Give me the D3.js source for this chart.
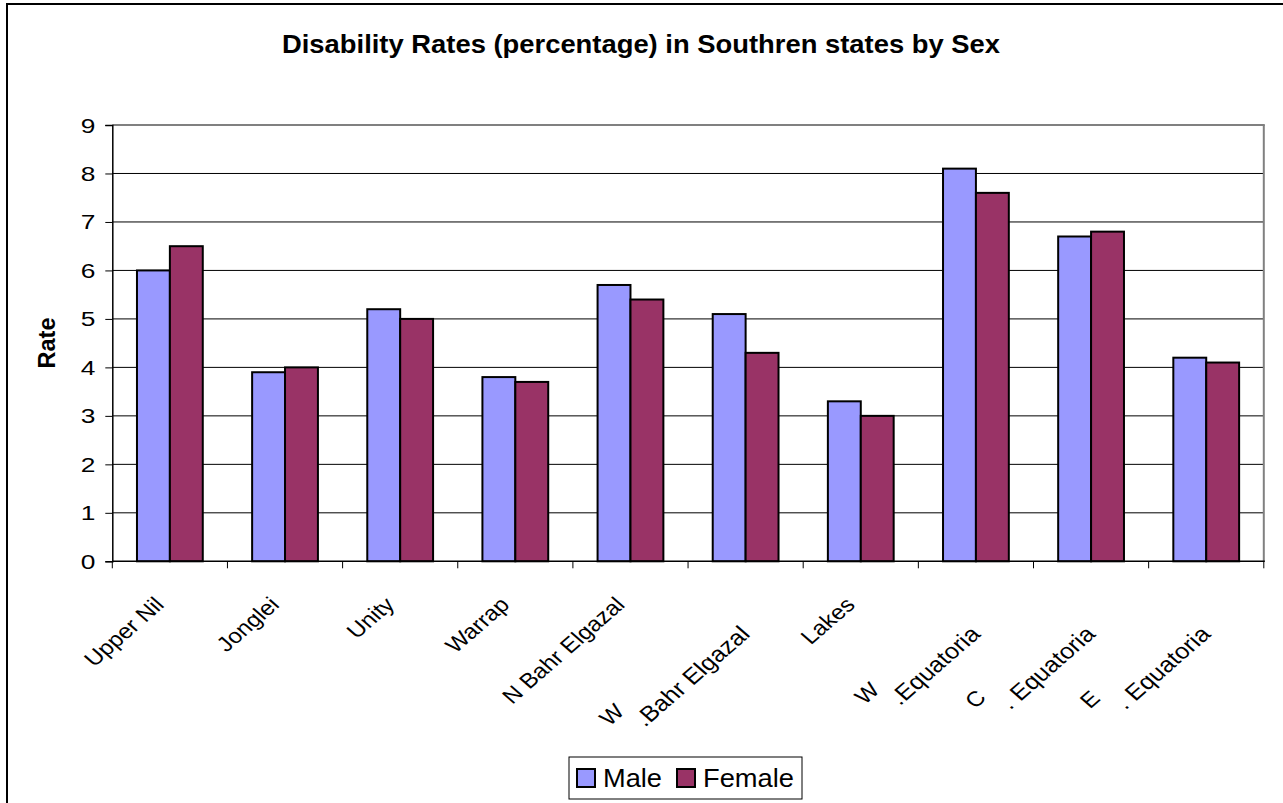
<!DOCTYPE html>
<html>
<head>
<meta charset="utf-8">
<script src="https://cdn.jsdelivr.net/npm/d3@7"></script>
<style>
  html, body { margin: 0; padding: 0; background: #fff; }
  svg { display: block; }
  text { font-family: "Liberation Sans", Arial, sans-serif; fill: #000; }
</style>
</head>
<body>
<svg id="chart" width="1283" height="803"></svg>
<script>
// ---- data ----
const categories = ["Upper Nil", "Jonglei", "Unity", "Warrap", "N Bahr Elgazal",
                    "W|.Bahr Elgazal", "Lakes", "W|.Equatoria", "C|. Equatoria", "E|. Equatoria"];
const seriesNames = ["Male", "Female"];
const maleValues   = [6.0, 3.9, 5.2, 3.8, 5.7, 5.1, 3.3, 8.1, 6.7, 4.2];
const femaleValues = [6.5, 4.0, 5.0, 3.7, 5.4, 4.3, 3.0, 7.6, 6.8, 4.1];
const yTickValues = [0, 1, 2, 3, 4, 5, 6, 7, 8, 9];
const titleText = "Disability Rates (percentage) in Southren states by Sex";
const yAxisTitle = "Rate";
const seriesColors = ["#9999FF", "#993366"];

// ---- layout ----
const svg = d3.select("#chart");
const plot = { left: 112.3, right: 1263.8, top: 125, bottom: 561.3 };

const x = d3.scaleBand().domain(categories).range([plot.left, plot.right]).paddingInner(0).paddingOuter(0);
const xs = d3.scaleBand().domain(seriesNames).range([0, x.bandwidth()]).paddingInner(0).paddingOuter(0.75);
const y = d3.scaleLinear().domain([0, 9]).range([plot.bottom, plot.top]);
const color = d3.scaleOrdinal().domain(seriesNames).range(seriesColors);

// outer chart border
svg.append("rect").attr("x", 7).attr("y", 4).attr("width", 1300).attr("height", 830)
  .attr("fill", "none").attr("stroke", "#000").attr("stroke-width", 2);

// title
svg.append("text").attr("x", 641).attr("y", 53)
  .attr("text-anchor", "middle").attr("font-size", 26).attr("font-weight", "bold")
  .attr("textLength", 718).attr("lengthAdjust", "spacingAndGlyphs")
  .text(titleText);

// gridlines
svg.append("g").selectAll("line").data(yTickValues.filter(v => v > 0 && v < 9)).join("line")
  .attr("x1", plot.left).attr("x2", plot.right)
  .attr("y1", d => y(d)).attr("y2", d => y(d))
  .attr("stroke", "#000").attr("stroke-width", 1);

// plot border top / right (gray)
svg.append("line").attr("x1", plot.left).attr("x2", plot.right + 1).attr("y1", y(9)).attr("y2", y(9))
  .attr("stroke", "#808080").attr("stroke-width", 2);
svg.append("line").attr("x1", plot.right).attr("x2", plot.right).attr("y1", y(9)).attr("y2", plot.bottom)
  .attr("stroke", "#808080").attr("stroke-width", 2);

// bars
const rows = categories.map((c, i) => ({ cat: c, values: [maleValues[i], femaleValues[i]] }));
const groups = svg.append("g").selectAll("g").data(rows).join("g")
  .attr("transform", d => `translate(${x(d.cat)},0)`);
groups.selectAll("rect").data(d => seriesNames.map((s, j) => ({ s, v: d.values[j] }))).join("rect")
  .attr("x", d => xs(d.s)).attr("width", xs.bandwidth())
  .attr("y", d => y(d.v)).attr("height", d => y(0) - y(d.v))
  .attr("fill", d => color(d.s)).attr("stroke", "#000").attr("stroke-width", 2);

// y axis
const yAxis = d3.axisLeft(y).tickValues(yTickValues).tickSize(7).tickPadding(10).tickFormat(d3.format("d"));
const gy = svg.append("g").attr("transform", `translate(${plot.left},0)`).call(yAxis);
gy.select(".domain").attr("stroke", "#000").attr("stroke-width", 1.5);
gy.selectAll(".tick line").attr("stroke", "#000");
gy.selectAll(".tick text")
  .attr("font-size", 19.5).attr("font-family", "Liberation Sans, Arial, sans-serif")
  .attr("x", null).attr("dy", "0.36em")
  .attr("transform", "translate(-17,0) scale(1.35,1)");

// x axis (ticks at band edges)
const xEdges = categories.map(c => x(c)).concat([plot.right]);
const gx = svg.append("g");
gx.append("line").attr("x1", plot.left).attr("x2", plot.right + 1).attr("y1", plot.bottom).attr("y2", plot.bottom)
  .attr("stroke", "#000").attr("stroke-width", 1.5);
gx.selectAll("line.tk").data(xEdges).join("line").attr("class", "tk")
  .attr("x1", d => d).attr("x2", d => d).attr("y1", plot.bottom).attr("y2", plot.bottom + 7)
  .attr("stroke", "#000").attr("stroke-width", 1);

// category labels (rotated 45°, slightly widened like the rest of the text)
const labFont = 21;
const lab = svg.append("g").selectAll("g").data(categories).join("g")
  .attr("transform", d => `translate(${x(d) + x.bandwidth() / 2 - 4.5},606) scale(1.15,1) rotate(-45)`);
lab.each(function (d) {
  const g = d3.select(this);
  const parts = d.split("|");
  if (parts.length === 1) {
    g.append("text").attr("text-anchor", "end").attr("font-size", labFont).text(parts[0]);
  } else {
    const main = g.append("text").attr("text-anchor", "end").attr("font-size", 22)
      .attr("x", -14.5).attr("y", 27).style("white-space", "pre").text(parts[1]);
    const w = main.node().getComputedTextLength();
    g.append("text").attr("text-anchor", "start").attr("font-size", labFont)
      .attr("x", -14.5 - w - 21).attr("y", 4.5).text(parts[0]);
  }
});

// y axis title
svg.append("text").attr("transform", "translate(55,343) rotate(-90)")
  .attr("text-anchor", "middle").attr("font-size", 23.5).attr("font-weight", "bold")
  .text(yAxisTitle);

// legend
const lg = svg.append("g");
lg.append("rect").attr("x", 569).attr("y", 757).attr("width", 233).attr("height", 42)
  .attr("fill", "#fff").attr("stroke", "#000").attr("stroke-width", 1);
const legendX = [577, 677];
const legendLen = [59, 91];
seriesNames.forEach((s, i) => {
  lg.append("rect").attr("x", legendX[i]).attr("y", 769).attr("width", 18).attr("height", 18)
    .attr("fill", color(s)).attr("stroke", "#000").attr("stroke-width", 2);
  lg.append("text").attr("x", legendX[i] + 26).attr("y", 787).attr("font-size", 25)
    .attr("textLength", legendLen[i]).attr("lengthAdjust", "spacingAndGlyphs").text(s);
});
</script>
</body>
</html>
